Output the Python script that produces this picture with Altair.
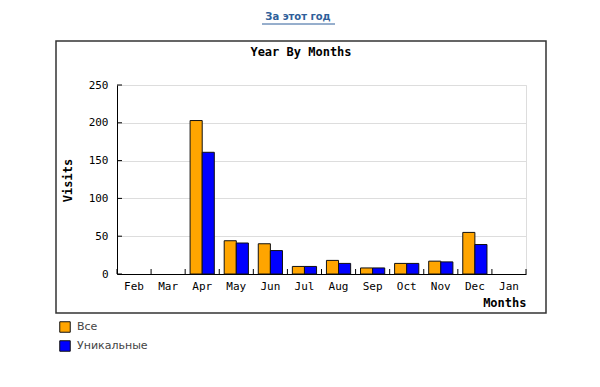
import altair as alt
import pandas as pd

months = ["Feb", "Mar", "Apr", "May", "Jun", "Jul", "Aug", "Sep", "Oct", "Nov", "Dec", "Jan"]
all_visits = [0, 0, 203, 44, 40, 10, 18, 8, 14, 17, 55, 0]
unique_visits = [0, 0, 161, 41, 31, 10, 14, 8, 14, 16, 39, 0]
series_names = ["Все", "Уникальные"]
series_colors = ["#FFA500", "#0000FF"]
y_ticks = [0, 50, 100, 150, 200, 250]
chart_title = "Year By Months"
link_text = "За этот год"

rows = []
for i, m in enumerate(months):
    rows.append({"month": m, "series": series_names[0], "visits": all_visits[i]})
    rows.append({"month": m, "series": series_names[1], "visits": unique_visits[i]})
df = pd.DataFrame(rows)

W, H = 409, 189
MONO = "DejaVu Sans Mono"

y_enc = alt.Y("visits:Q", scale=alt.Scale(domain=[0, 250], nice=False),
              axis=alt.Axis(title="Visits", values=y_ticks, labelFont=MONO, labelFontSize=11,
                            labelColor="#000", labelPadding=9, ticks=False, labelOverlap=False,
                            domainColor="#000", domainWidth=1,
                            gridColor="#dddddd", gridWidth=1,
                            titleFont=MONO, titleFontSize=12, titleFontWeight="bold",
                            titleX=-50, titleY=95, titleAlign="center", titleBaseline="middle"))

bars = alt.Chart(df).transform_filter("datum.visits > 0").mark_bar(
    stroke="#111111", strokeWidth=1
).encode(
    x=alt.X("month:N", sort=months,
            scale=alt.Scale(domain=months, paddingInner=0.29, paddingOuter=0.145),
            axis=alt.Axis(title="Months", labelAngle=0, labelFont=MONO, labelFontSize=11,
                          labelColor="#000", labelPadding=6, ticks=False,
                          domainColor="#000", domainWidth=1,
                          titleFont=MONO, titleFontSize=12, titleFontWeight="bold",
                          titleX=W, titleY=28, titleAlign="right", titleBaseline="middle",
                          titleAnchor="end")),
    xOffset=alt.XOffset("series:N", sort=series_names),
    y=y_enc,
    color=alt.Color("series:N", sort=series_names,
                    scale=alt.Scale(domain=series_names, range=series_colors),
                    legend=alt.Legend(title=None, orient="none", legendX=-58, legendY=236,
                                      symbolType="square", symbolSize=110,
                                      symbolStrokeColor="#111", symbolStrokeWidth=1,
                                      labelFont="DejaVu Sans", labelFontSize=11,
                                      labelColor="#444", rowPadding=3, padding=0,
                                      labelOffset=6)),
)

bound_df = pd.DataFrame({"b": list(range(len(months) + 1))})
xticks = alt.Chart(bound_df).mark_rule(color="#000", strokeWidth=1).encode(
    x=alt.X("b:Q", scale=alt.Scale(domain=[0, len(months)]), axis=None),
    y=alt.value(H - 5),
    y2=alt.value(H),
)

ytick_df = pd.DataFrame({"visits": y_ticks})
yticks = alt.Chart(ytick_df).mark_rule(color="#000", strokeWidth=1).encode(
    y=y_enc,
    x=alt.value(0),
    x2=alt.value(5),
)

frame = alt.Chart(pd.DataFrame({"a": [0]})).mark_rect(
    fill=None, stroke="#333333", strokeWidth=1.5
).encode(x=alt.value(-61), x2=alt.value(429), y=alt.value(-44), y2=alt.value(228))

title = alt.Chart(pd.DataFrame({"t": [chart_title]})).mark_text(
    font=MONO, fontSize=12, fontWeight="bold", color="#000", align="center", baseline="middle"
).encode(text="t:N", x=alt.value(184), y=alt.value(-33))

link = alt.Chart(pd.DataFrame({"t": [link_text]})).mark_text(
    font="DejaVu Sans", fontSize=10, fontWeight="bold", color="#2f5f9a",
    align="center", baseline="middle"
).encode(text="t:N", x=alt.value(181), y=alt.value(-68))

underline = alt.Chart(pd.DataFrame({"a": [0]})).mark_rule(color="#2f5f9a", strokeWidth=1).encode(
    x=alt.value(145), x2=alt.value(218), y=alt.value(-61)
)

chart = alt.layer(frame, bars, yticks, xticks, title, link, underline).resolve_scale(
    x="independent"
).properties(
    width=W, height=H,
    autosize=alt.AutoSizeParams(type="none"),
    padding={"left": 109, "top": 77, "right": 60, "bottom": 80},
).configure_view(stroke=None).configure(background="#ffffff")

chart.save("out.html", embed_options={"renderer": "svg", "actions": False})
